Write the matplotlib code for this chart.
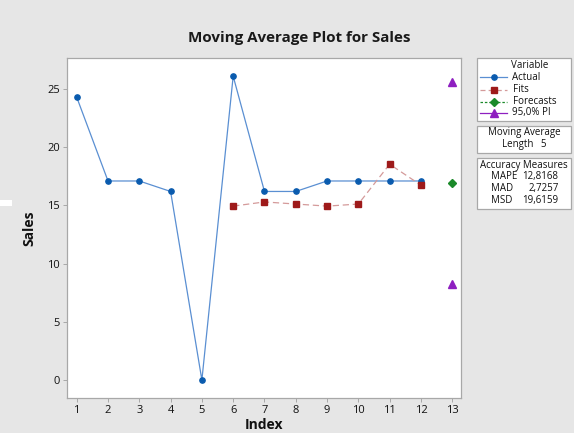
import matplotlib
matplotlib.use("Agg")
import matplotlib.pyplot as plt
from matplotlib.lines import Line2D
from matplotlib.patches import Rectangle

plt.rcParams['font.family'] = ['Open Sans', 'DejaVu Sans']

index = list(range(1, 13))
actual = [24.3, 17.1, 17.1, 16.2, 0.0, 26.1, 16.2, 16.2, 17.1, 17.1, 17.1, 17.1]
fit_index = [6, 7, 8, 9, 10, 11, 12]
fits = [14.94, 15.30, 15.12, 14.94, 15.12, 18.54, 16.74]
forecast_index = [13]
forecasts = [16.92]
pi_index = [13, 13]
pi_values = [25.60, 8.24]
x_ticks = list(range(1, 14))
y_ticks = [0, 5, 10, 15, 20, 25]
measure_names = ["MAPE", "MAD", "MSD"]
measure_values = ["12,8168", "2,7257", "19,6159"]
ma_length = 5

W, H = 574, 433
BG = '#E6E6E6'
c_act = '#0A5BAE'
c_act_line = '#5A8FD2'
c_fit = '#9E1A1A'
c_fit_line = '#D49A9A'
c_fc = '#1B8A2A'
c_pi = '#8E1FC0'
grey = '#A8A8A8'
txt = '#111111'

fig = plt.figure(figsize=(W / 100, H / 100), dpi=100)
fig.patch.set_facecolor(BG)

def fx(px):
    return px / W

def fy(py):
    return 1 - py / H

ax = fig.add_axes([fx(66.7), fy(398.3), fx(461.3) - fx(66.7), fy(58.3) - fy(398.3)])
ax.set_facecolor('white')
ax.plot(index, actual, color=c_act_line, lw=0.9, marker='o', ms=3.8,
        mfc=c_act, mec=c_act, zorder=3)
ax.plot(fit_index, fits, color=c_fit_line, lw=0.9, ls=(0, (5, 3)), marker='s', ms=3.8,
        mfc=c_fit, mec=c_fit, zorder=3)
ax.plot(forecast_index, forecasts, ls='none', marker='D', ms=3.6, mfc=c_fc, mec=c_fc, zorder=3)
ax.plot(pi_index, pi_values, ls='none', marker='^', ms=5.2, mfc=c_pi, mec=c_pi, zorder=3)

ax.set_xlim(0.68, 13.29)
ax.set_ylim(-1.57, 27.64)
ax.set_xticks(x_ticks)
ax.set_yticks(y_ticks)
for s in ax.spines.values():
    s.set_color(grey)
    s.set_linewidth(0.9)
ax.tick_params(direction='out', length=3, width=0.7, color=grey, labelsize=8, pad=2,
               labelcolor=txt)
ax.set_xlabel('Index', fontsize=10, fontweight='bold', labelpad=1, color=txt)
ax.set_ylabel('Sales', fontsize=10, fontweight='bold', labelpad=8, color=txt)

fig.text(fx(299), fy(38), 'Moving Average Plot for Sales', fontsize=10.9, fontweight='bold',
         ha='center', va='center', color='#1A1A1A')

# small white artifact at left
fig.patches.append(Rectangle((0, fy(206)), fx(12), fy(200) - fy(206), transform=fig.transFigure,
                             facecolor='white', edgecolor='none'))

def box(y0, y1):
    fig.patches.append(Rectangle((fx(477), fy(y1)), fx(571) - fx(477), fy(y0) - fy(y1),
                                 transform=fig.transFigure, facecolor='white',
                                 edgecolor=grey, lw=0.9))

fs = 7
box(58, 121)
fig.text(fx(530), fy(65), 'Variable', fontsize=fs, ha='center', va='center', color=txt)
rows = [
    ('Actual', c_act_line, '-', 'o', c_act, 3.8),
    ('Fits', c_fit_line, (0, (4, 2.5)), 's', c_fit, 4),
    ('Forecasts', c_fc, (0, (2, 1.5)), 'D', c_fc, 3.6),
    ('95,0% PI', c_pi, '-', '^', c_pi, 5.2),
]
ys = [77.3, 90, 101.7, 112.7]
for (lab, lc, ls, mk, mc, ms), yy in zip(rows, ys):
    fig.lines.append(Line2D([fx(480), fx(507)], [fy(yy), fy(yy)], transform=fig.transFigure,
                            color=lc, lw=0.9, ls=ls))
    fig.lines.append(Line2D([fx(493.5)], [fy(yy)], transform=fig.transFigure, ls='none',
                            marker=mk, ms=ms, mfc=mc, mec=mc))
    fig.text(fx(512.5), fy(yy), lab, fontsize=fs, ha='left', va='center', color=txt)

box(126, 153)
fig.text(fx(524), fy(132.5), 'Moving Average', fontsize=fs, ha='center', va='center', color=txt)
fig.text(fx(524), fy(145), 'Length   %d' % ma_length, fontsize=fs, ha='center', va='center',
         color=txt)

box(158, 209)
fig.text(fx(524), fy(165), 'Accuracy Measures', fontsize=fs, ha='center', va='center', color=txt)
for nm, val, yy in zip(measure_names, measure_values, [176.7, 188.5, 200.5]):
    fig.text(fx(491), fy(yy), nm, fontsize=fs, ha='left', va='center', color=txt)
    fig.text(fx(558.5), fy(yy), val, fontsize=fs, ha='right', va='center', color=txt)

fig.savefig('out.png', dpi=100, facecolor=BG)
